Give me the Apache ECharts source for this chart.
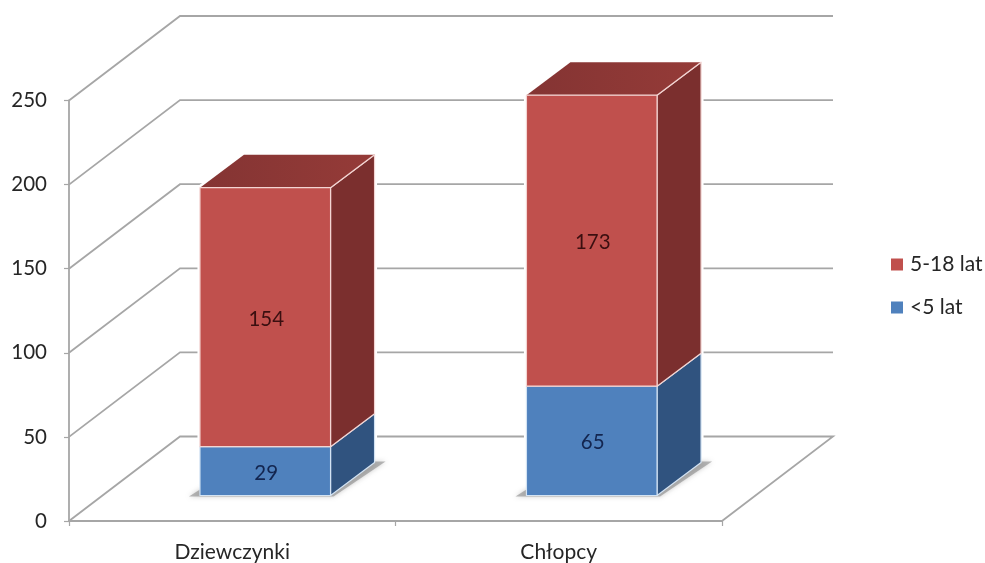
<!DOCTYPE html>
<html>
<head>
<meta charset="utf-8">
<style>html,body{margin:0;padding:0;background:#fff}#chart{width:985px;height:563px}</style>
<script src="https://cdn.jsdelivr.net/npm/echarts@6/dist/echarts.min.js"></script>
</head>
<body>
<div id="chart"></div>
<script>
const categories = ['Dziewczynki', 'Chłopcy'];
const under5 = [29, 65];
const age5to18 = [154, 173];
const valueTicks = [0, 50, 100, 150, 200, 250];

const FONT = 'Lato, "Open Sans", sans-serif';
const GRID_LINE = '#a6a6a6';

// Oblique projection: how far the back wall and the bars sit behind the axis plane.
const WALL_DX = 111, WALL_DY = -84.5;
const BAR_SHIFT_DX = 33, BAR_SHIFT_DY = -25.5;
const BAR_DEPTH_DX = 44, BAR_DEPTH_DY = -33;
const BAR_WIDTH_RATIO = 0.4;

function barBox(api, cat, from, to) {
  const bottom = api.coord([cat, from]);
  const top = api.coord([cat, to]);
  const w = api.size([1, 0])[0] * BAR_WIDTH_RATIO;
  const cx = bottom[0] + BAR_SHIFT_DX;
  return {
    x0: cx - w / 2,
    x1: cx + w / 2,
    yB: bottom[1] + BAR_SHIFT_DY,
    yT: top[1] + BAR_SHIFT_DY
  };
}

// L-shaped gridlines on the side wall and back wall, plus the floor's right edge.
function renderWallLine(params, api) {
  const sys = params.coordSys;
  const v = api.value(0);
  const y = api.coord([0, v])[1];
  const left = sys.x, right = sys.x + sys.width;
  const pts = [[left, y], [left + WALL_DX, y + WALL_DY], [right + WALL_DX, y + WALL_DY]];
  if (v === 0) pts.push([right, y]);
  return {
    type: 'polyline',
    shape: { points: pts },
    style: { fill: null, stroke: GRID_LINE, lineWidth: 1.8 }
  };
}

// White clearing around a whole stack and its soft shadow on the floor.
function renderFootprint(params, api) {
  const b = barBox(api, api.value(0), 0, api.value(1));
  const dx = BAR_DEPTH_DX, dy = BAR_DEPTH_DY;
  return {
    type: 'group',
    children: [
      {
        type: 'polygon',
        shape: { points: [[b.x0, b.yB], [b.x1, b.yB], [b.x1 + dx, b.yB + dy], [b.x1 + dx, b.yT + dy], [b.x0 + dx, b.yT + dy], [b.x0, b.yT]] },
        style: { fill: '#fff', stroke: '#fff', lineWidth: 5 }
      },
      {
        type: 'polygon',
        shape: { points: [[b.x0 - 11, b.yB + 1], [b.x1 + 3, b.yB + 1], [b.x1 + dx + 11, b.yB + dy - 1], [b.x1 + dx, b.yB + dy - 1], [b.x0, b.yB - 6]] },
        style: { fill: 'rgba(130,130,130,0.55)', shadowBlur: 5, shadowColor: 'rgba(130,130,130,0.75)' }
      }
    ]
  };
}

function segmentRenderer(look) {
  return function (params, api) {
    const from = api.value(1), to = api.value(2);
    const b = barBox(api, api.value(0), from, to);
    const dx = BAR_DEPTH_DX, dy = BAR_DEPTH_DY;
    const edge = { stroke: look.edge, lineWidth: 1.2, lineJoin: 'round' };
    const children = [
      {
        type: 'polygon',
        shape: { points: [[b.x1, b.yB], [b.x1 + dx, b.yB + dy], [b.x1 + dx, b.yT + dy], [b.x1, b.yT]] },
        style: Object.assign({ fill: look.side }, edge)
      }
    ];
    if (look.top) {
      children.push({
        type: 'polygon',
        shape: { points: [[b.x0, b.yT], [b.x1, b.yT], [b.x1 + dx, b.yT + dy], [b.x0 + dx, b.yT + dy]] },
        style: {
          fill: new echarts.graphic.LinearGradient(0, 0, 1, 0, [
            { offset: 0, color: look.top[0] },
            { offset: 1, color: look.top[1] }
          ]),
          stroke: null
        }
      });
      children.push({
        type: 'line',
        shape: { x1: b.x1, y1: b.yT, x2: b.x1 + dx, y2: b.yT + dy },
        style: edge
      });
    }
    children.push({
      type: 'rect',
      shape: { x: b.x0, y: b.yT, width: b.x1 - b.x0, height: b.yB - b.yT },
      style: Object.assign({ fill: look.front }, edge)
    });
    children.push({
      type: 'text',
      z2: 10,
      style: {
        x: (b.x0 + b.x1) / 2 + 1,
        y: (b.yT + b.yB) / 2 + 2,
        text: String(to - from),
        fill: look.text,
        font: '20.5px ' + FONT,
        align: 'center',
        verticalAlign: 'middle'
      }
    });
    return { type: 'group', children };
  };
}

const lowerLook = { front: '#4f81bd', side: '#30537f', edge: '#d3e3f3', text: '#13254f' };
const upperLook = { front: '#c0504d', side: '#7b2f2e', top: ['#843433', '#953b38'], edge: '#f3d5d3', text: '#3a0f10' };

const option = {
  animation: false,
  backgroundColor: '#fff',
  grid: { left: 69, right: 263, top: 100.5, bottom: 42 },
  legend: {
    orient: 'vertical',
    left: 891,
    top: 254,
    padding: 0,
    itemWidth: 12,
    itemHeight: 12,
    itemGap: 22,
    icon: 'rect',
    data: ['5-18 lat', '<5 lat'],
    selectedMode: false,
    textStyle: { fontFamily: FONT, fontSize: 21, color: '#262626', padding: [0, 0, 0, 2] }
  },
  xAxis: {
    type: 'category',
    data: categories,
    axisLine: { lineStyle: { color: GRID_LINE, width: 1.8 } },
    axisTick: { show: true, length: 5, lineStyle: { color: GRID_LINE, width: 1.2 } },
    axisLabel: { fontFamily: FONT, fontSize: 21, color: '#262626', margin: 21 }
  },
  yAxis: {
    type: 'value',
    min: 0,
    max: 250,
    interval: 50,
    splitLine: { show: false },
    axisLine: { show: true, lineStyle: { color: GRID_LINE, width: 1.8 } },
    axisTick: { show: true, length: 5, lineStyle: { color: GRID_LINE, width: 1.2 } },
    axisLabel: { fontFamily: FONT, fontSize: 20.5, color: '#262626', margin: 22 }
  },
  series: [
    {
      type: 'custom',
      silent: true,
      renderItem: renderWallLine,
      encode: { y: 0 },
      data: valueTicks.map(v => [v])
    },
    {
      type: 'custom',
      silent: true,
      renderItem: renderFootprint,
      encode: { x: 0, y: 1 },
      data: categories.map((_, i) => [i, under5[i] + age5to18[i]])
    },
    {
      name: '<5 lat',
      type: 'custom',
      itemStyle: { color: lowerLook.front },
      renderItem: segmentRenderer(lowerLook),
      encode: { x: 0, y: 2 },
      data: categories.map((_, i) => [i, 0, under5[i]])
    },
    {
      name: '5-18 lat',
      type: 'custom',
      itemStyle: { color: upperLook.front },
      renderItem: segmentRenderer(upperLook),
      encode: { x: 0, y: 2 },
      data: categories.map((_, i) => [i, under5[i], under5[i] + age5to18[i]])
    }
  ]
};

echarts.init(document.getElementById('chart'), null, { renderer: 'canvas' }).setOption(option);
</script>
</body>
</html>
